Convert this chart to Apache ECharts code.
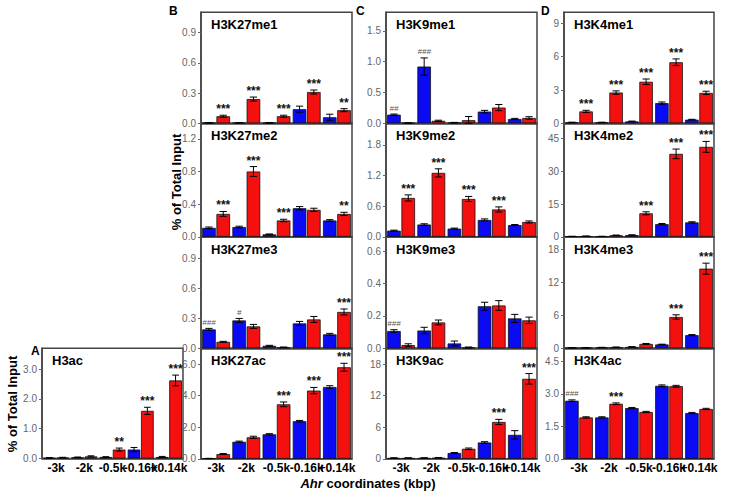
<!DOCTYPE html>
<html><head><meta charset="utf-8">
<script src="https://cdn.jsdelivr.net/npm/echarts@6/dist/echarts.min.js"></script>
<style>html,body{margin:0;padding:0;background:#fff}#c{width:729px;height:498px}</style>
</head><body><div id="c"></div>
<script>
const categories = ['-3k', '-2k', '-0.5k', '-0.16k', '+0.14k'];

// A: H3ac
const h3ac_blue = [0.02, 0.04, 0.05, 0.30, 0.05];
const h3ac_blueErr = [0.01, 0.01, 0.01, 0.07, 0.02];
const h3ac_red = [0.03, 0.07, 0.30, 1.60, 2.62];
const h3ac_redErr = [0.01, 0.02, 0.05, 0.12, 0.18];
const h3ac_blueSig = ['', '', '', '', ''];
const h3ac_redSig = ['', '', '**', '***', '***'];

// B: H3K27me1
const h3k27me1_blue = [0.005, 0.005, 0.005, 0.14, 0.06];
const h3k27me1_blueErr = [0.003, 0.003, 0.003, 0.03, 0.03];
const h3k27me1_red = [0.07, 0.24, 0.07, 0.31, 0.13];
const h3k27me1_redErr = [0.01, 0.02, 0.01, 0.02, 0.015];
const h3k27me1_blueSig = ['', '', '', '', ''];
const h3k27me1_redSig = ['***', '***', '***', '***', '**'];

// B: H3K27me2
const h3k27me2_blue = [0.11, 0.12, 0.03, 0.35, 0.20];
const h3k27me2_blueErr = [0.01, 0.01, 0.005, 0.02, 0.01];
const h3k27me2_red = [0.28, 0.80, 0.20, 0.33, 0.28];
const h3k27me2_redErr = [0.03, 0.06, 0.015, 0.02, 0.02];
const h3k27me2_blueSig = ['', '', '', '', ''];
const h3k27me2_redSig = ['***', '***', '***', '', '**'];

// B: H3K27me3
const h3k27me3_blue = [0.19, 0.28, 0.025, 0.25, 0.14];
const h3k27me3_blueErr = [0.01, 0.02, 0.005, 0.02, 0.01];
const h3k27me3_red = [0.065, 0.22, 0.01, 0.29, 0.365];
const h3k27me3_redErr = [0.005, 0.02, 0.003, 0.03, 0.03];
const h3k27me3_blueSig = ['###', '#', '', '', ''];
const h3k27me3_redSig = ['', '', '', '', '***'];

// B: H3K27ac
const h3k27ac_blue = [0.02, 1.08, 1.55, 2.38, 4.55];
const h3k27ac_blueErr = [0.01, 0.04, 0.04, 0.05, 0.08];
const h3k27ac_red = [0.30, 1.36, 3.45, 4.32, 5.80];
const h3k27ac_redErr = [0.03, 0.07, 0.15, 0.2, 0.25];
const h3k27ac_blueSig = ['', '', '', '', ''];
const h3k27ac_redSig = ['', '', '***', '***', '***'];

// C: H3K9me1
const h3k9me1_blue = [0.14, 0.92, 0.01, 0.19, 0.07];
const h3k9me1_blueErr = [0.01, 0.14, 0.005, 0.02, 0.01];
const h3k9me1_red = [0.005, 0.04, 0.05, 0.255, 0.087];
const h3k9me1_redErr = [0.003, 0.01, 0.06, 0.05, 0.02];
const h3k9me1_blueSig = ['##', '###', '', '', ''];
const h3k9me1_redSig = ['', '', '', '', ''];

// C: H3K9me2
const h3k9me2_blue = [0.12, 0.24, 0.16, 0.33, 0.23];
const h3k9me2_blueErr = [0.01, 0.015, 0.01, 0.02, 0.01];
const h3k9me2_red = [0.76, 1.25, 0.74, 0.535, 0.29];
const h3k9me2_redErr = [0.06, 0.08, 0.05, 0.05, 0.02];
const h3k9me2_blueSig = ['', '', '', '', ''];
const h3k9me2_redSig = ['***', '***', '***', '***', ''];

// C: H3K9me3
const h3k9me3_blue = [0.107, 0.11, 0.03, 0.26, 0.185];
const h3k9me3_blueErr = [0.008, 0.02, 0.015, 0.025, 0.025];
const h3k9me3_red = [0.02, 0.16, 0.005, 0.265, 0.173];
const h3k9me3_redErr = [0.008, 0.015, 0.003, 0.03, 0.02];
const h3k9me3_blueSig = ['###', '', '', '', ''];
const h3k9me3_redSig = ['', '', '', '', ''];

// C: H3K9ac
const h3k9ac_blue = [0.15, 0.15, 1.1, 3.1, 4.55];
const h3k9ac_blueErr = [0.05, 0.05, 0.1, 0.15, 0.8];
const h3k9ac_red = [0.15, 0.2, 1.9, 7.0, 15.2];
const h3k9ac_redErr = [0.05, 0.05, 0.15, 0.5, 1.0];
const h3k9ac_blueSig = ['', '', '', '', ''];
const h3k9ac_redSig = ['', '', '', '***', '***'];

// D: H3K4me1
const h3k4me1_blue = [0.08, 0.08, 0.17, 1.82, 0.33];
const h3k4me1_blueErr = [0.02, 0.02, 0.03, 0.1, 0.03];
const h3k4me1_red = [1.07, 2.77, 3.74, 5.5, 2.74];
const h3k4me1_redErr = [0.1, 0.15, 0.25, 0.3, 0.15];
const h3k4me1_blueSig = ['', '', '', '', ''];
const h3k4me1_redSig = ['***', '***', '***', '***', '***'];

// D: H3K4me2
const h3k4me2_blue = [0.2, 0.2, 0.8, 5.8, 6.6];
const h3k4me2_blueErr = [0.05, 0.05, 0.1, 0.3, 0.3];
const h3k4me2_red = [0.3, 0.7, 10.75, 38.0, 41.2];
const h3k4me2_redErr = [0.05, 0.1, 0.7, 2.2, 2.5];
const h3k4me2_blueSig = ['', '', '', '', ''];
const h3k4me2_redSig = ['', '', '***', '***', '***'];

// D: H3K4me3
const h3k4me3_blue = [0.1, 0.15, 0.25, 0.7, 2.4];
const h3k4me3_blueErr = [0.03, 0.03, 0.05, 0.05, 0.1];
const h3k4me3_red = [0.1, 0.2, 0.8, 5.7, 14.5];
const h3k4me3_redErr = [0.03, 0.03, 0.08, 0.4, 1.0];
const h3k4me3_blueSig = ['', '', '', '', ''];
const h3k4me3_redSig = ['', '', '', '***', '***'];

// D: H3K4ac
const h3k4ac_blue = [2.68, 1.91, 2.34, 3.37, 2.11];
const h3k4ac_blueErr = [0.04, 0.03, 0.03, 0.04, 0.03];
const h3k4ac_red = [1.91, 2.54, 2.16, 3.35, 2.30];
const h3k4ac_redErr = [0.03, 0.04, 0.03, 0.04, 0.03];
const h3k4ac_blueSig = ['###', '', '', '', ''];
const h3k4ac_redSig = ['', '***', '', '', ''];

// axis ticks
const yMax = { h3ac: 3.7, h3k27me1: 1.1, h3k27me2: 1.39, h3k27me3: 1.12, h3k27ac: 7.0,
  h3k9me1: 1.8, h3k9me2: 2.22, h3k9me3: 0.69, h3k9ac: 21, h3k4me1: 10, h3k4me2: 52, h3k4me3: 20.3, h3k4ac: 5.1 };
const yStep = { h3ac: 1.0, h3k27me1: 0.3, h3k27me2: 0.4, h3k27me3: 0.3, h3k27ac: 2.0,
  h3k9me1: 0.5, h3k9me2: 0.6, h3k9me3: 0.2, h3k9ac: 6, h3k4me1: 3, h3k4me2: 15, h3k4me3: 6, h3k4ac: 1.5 };
const yDec = { h3ac: 1, h3k27me1: 1, h3k27me2: 1, h3k27me3: 1, h3k27ac: 1,
  h3k9me1: 1, h3k9me2: 1, h3k9me3: 1, h3k9ac: 0, h3k4me1: 0, h3k4me2: 0, h3k4me3: 0, h3k4ac: 1 };

// layout (positions only)
const colX = { A: [42, 141], B: [201, 151], C: [386, 151], D: [564, 150] };
const rowY = [[12.3, 111], [123.3, 113.5], [236.8, 111.5], [348.3, 110.5]];
const aBox = [348.3, 110.2];

const panels = [
  { key: 'h3ac', title: 'H3ac', col: 'A', row: -1, d: [h3ac_blue, h3ac_blueErr, h3ac_red, h3ac_redErr, h3ac_blueSig, h3ac_redSig] },
  { key: 'h3k27me1', title: 'H3K27me1', col: 'B', row: 0, d: [h3k27me1_blue, h3k27me1_blueErr, h3k27me1_red, h3k27me1_redErr, h3k27me1_blueSig, h3k27me1_redSig] },
  { key: 'h3k27me2', title: 'H3K27me2', col: 'B', row: 1, d: [h3k27me2_blue, h3k27me2_blueErr, h3k27me2_red, h3k27me2_redErr, h3k27me2_blueSig, h3k27me2_redSig] },
  { key: 'h3k27me3', title: 'H3K27me3', col: 'B', row: 2, d: [h3k27me3_blue, h3k27me3_blueErr, h3k27me3_red, h3k27me3_redErr, h3k27me3_blueSig, h3k27me3_redSig] },
  { key: 'h3k27ac', title: 'H3K27ac', col: 'B', row: 3, d: [h3k27ac_blue, h3k27ac_blueErr, h3k27ac_red, h3k27ac_redErr, h3k27ac_blueSig, h3k27ac_redSig] },
  { key: 'h3k9me1', title: 'H3K9me1', col: 'C', row: 0, d: [h3k9me1_blue, h3k9me1_blueErr, h3k9me1_red, h3k9me1_redErr, h3k9me1_blueSig, h3k9me1_redSig] },
  { key: 'h3k9me2', title: 'H3K9me2', col: 'C', row: 1, d: [h3k9me2_blue, h3k9me2_blueErr, h3k9me2_red, h3k9me2_redErr, h3k9me2_blueSig, h3k9me2_redSig] },
  { key: 'h3k9me3', title: 'H3K9me3', col: 'C', row: 2, d: [h3k9me3_blue, h3k9me3_blueErr, h3k9me3_red, h3k9me3_redErr, h3k9me3_blueSig, h3k9me3_redSig] },
  { key: 'h3k9ac', title: 'H3K9ac', col: 'C', row: 3, d: [h3k9ac_blue, h3k9ac_blueErr, h3k9ac_red, h3k9ac_redErr, h3k9ac_blueSig, h3k9ac_redSig] },
  { key: 'h3k4me1', title: 'H3K4me1', col: 'D', row: 0, d: [h3k4me1_blue, h3k4me1_blueErr, h3k4me1_red, h3k4me1_redErr, h3k4me1_blueSig, h3k4me1_redSig] },
  { key: 'h3k4me2', title: 'H3K4me2', col: 'D', row: 1, d: [h3k4me2_blue, h3k4me2_blueErr, h3k4me2_red, h3k4me2_redErr, h3k4me2_blueSig, h3k4me2_redSig] },
  { key: 'h3k4me3', title: 'H3K4me3', col: 'D', row: 2, d: [h3k4me3_blue, h3k4me3_blueErr, h3k4me3_red, h3k4me3_redErr, h3k4me3_blueSig, h3k4me3_redSig] },
  { key: 'h3k4ac', title: 'H3K4ac', col: 'D', row: 3, d: [h3k4ac_blue, h3k4ac_blueErr, h3k4ac_red, h3k4ac_redErr, h3k4ac_blueSig, h3k4ac_redSig] }
];

const BLUE = '#0a0af5', RED = '#f51010';
const BW = 0.45, GAP = 0.05;
const OFF = (BW * 2 + BW * GAP) / 2 - BW / 2;
const FONT = '"Liberation Sans", Arial, Helvetica, sans-serif';

const grids = [], xAxes = [], yAxes = [], series = [], graphics = [];

function errSeries(idx, vals, errs, sigs, sign, isBlue) {
  return {
    type: 'custom', xAxisIndex: idx, yAxisIndex: idx, z: 5, silent: true, clip: false,
    data: vals.map((v, i) => [i, v, errs[i]]),
    renderItem: function (params, api) {
      const i = api.value(0), v = api.value(1), e = api.value(2);
      const band = api.size([1, 0])[0];
      const cx = api.coord([i, v])[0] + sign * OFF * band;
      const yT = api.coord([i, v + e])[1];
      const yB = api.coord([i, Math.max(0, v - e)])[1];
      const cap = band * 0.12;
      const st = { stroke: '#000', lineWidth: 1 };
      const ch = [
        { type: 'line', shape: { x1: cx, y1: yT, x2: cx, y2: yB }, style: st },
        { type: 'line', shape: { x1: cx - cap, y1: yT, x2: cx + cap, y2: yT }, style: st },
        { type: 'line', shape: { x1: cx - cap, y1: yB, x2: cx + cap, y2: yB }, style: st }
      ];
      const s = sigs[params.dataIndex];
      if (s) {
        ch.push({ type: 'text', style: {
          text: s, x: cx, y: yT - (isBlue ? 2 : 0), align: 'center', verticalAlign: 'bottom',
          fill: isBlue ? '#555' : '#111',
          font: isBlue ? 'italic 8px ' + FONT : 'bold 12px ' + FONT
        } });
      }
      return { type: 'group', children: ch };
    }
  };
}

panels.forEach((p, idx) => {
  const cx = colX[p.col];
  const ry = p.row < 0 ? aBox : rowY[p.row];
  const left = cx[0], width = cx[1], top = ry[0], height = ry[1];
  const bottomPanel = p.row === 3 || p.row < 0;
  grids.push({ left: left, top: top, width: width, height: height, containLabel: false, outerBoundsMode: 'none',
    show: true, borderColor: '#444', borderWidth: 1.5, backgroundColor: 'transparent' });
  xAxes.push({ type: 'category', gridIndex: idx, data: categories,
    axisLine: { show: true, lineStyle: { color: '#444', width: 1.5 } }, axisTick: { show: false },
    axisLabel: { show: bottomPanel, interval: 0, margin: 3, fontSize: 12, fontWeight: 'bold', color: '#000', fontFamily: FONT } });
  const dec = yDec[p.key];
  yAxes.push({ type: 'value', gridIndex: idx, min: 0, max: yMax[p.key], interval: yStep[p.key],
    splitLine: { show: false },
    axisLine: { show: true, lineStyle: { color: '#444', width: 1.5 } },
    axisTick: { show: true, inside: false, length: 3, lineStyle: { color: '#666' } },
    axisLabel: { showMaxLabel: false, fontSize: 10, color: '#666', margin: 5, fontFamily: FONT,
      formatter: v => Number(v).toFixed(dec) } });
  const [b, be, r, re, bs, rs] = p.d;
  series.push({ type: 'bar', xAxisIndex: idx, yAxisIndex: idx, data: b, barWidth: (BW * 100) + '%', barGap: (GAP * 100) + '%',
    itemStyle: { color: BLUE, borderColor: '#111', borderWidth: 0.8 }, silent: true, animation: false });
  series.push({ type: 'bar', xAxisIndex: idx, yAxisIndex: idx, data: r, barWidth: (BW * 100) + '%', barGap: (GAP * 100) + '%',
    itemStyle: { color: RED, borderColor: '#111', borderWidth: 0.8 }, silent: true, animation: false });
  series.push(errSeries(idx, b, be, bs, -1, true));
  series.push(errSeries(idx, r, re, rs, 1, false));
  graphics.push({ type: 'text', left: left + 10, top: top + 6, z: 10,
    style: { text: p.title, font: 'bold 13px ' + FONT, fill: '#000' } });
});

// panel letters
[['A', 31, 345], ['B', 169, 5], ['C', 356, 5], ['D', 541, 5]].forEach(t => {
  graphics.push({ type: 'text', left: t[1], top: t[2], style: { text: t[0], font: 'bold 12px ' + FONT, fill: '#000' } });
});
// y-axis titles
graphics.push({ type: 'text', x: 176, y: 182, rotation: Math.PI / 2,
  style: { text: '% of Total Input', font: 'bold 13px ' + FONT, fill: '#000', align: 'center', verticalAlign: 'middle' } });
graphics.push({ type: 'text', x: 12, y: 404, rotation: Math.PI / 2,
  style: { text: '% of Total Input', font: 'bold 13px ' + FONT, fill: '#000', align: 'center', verticalAlign: 'middle' } });
// x-axis title
graphics.push({ type: 'text', x: 368, y: 483,
  style: { text: '{i|Ahr} coordinates (kbp)', font: 'bold 13px ' + FONT, fill: '#000', align: 'center', verticalAlign: 'middle',
    rich: { i: { fontStyle: 'italic', fontWeight: 'bold', fontSize: 13, fontFamily: FONT, fill: '#000' } } } });

const chart = echarts.init(document.getElementById('c'), null, { renderer: 'svg' });
chart.setOption({ animation: false, grid: grids, xAxis: xAxes, yAxis: yAxes, series: series, graphic: graphics });
</script></body></html>
